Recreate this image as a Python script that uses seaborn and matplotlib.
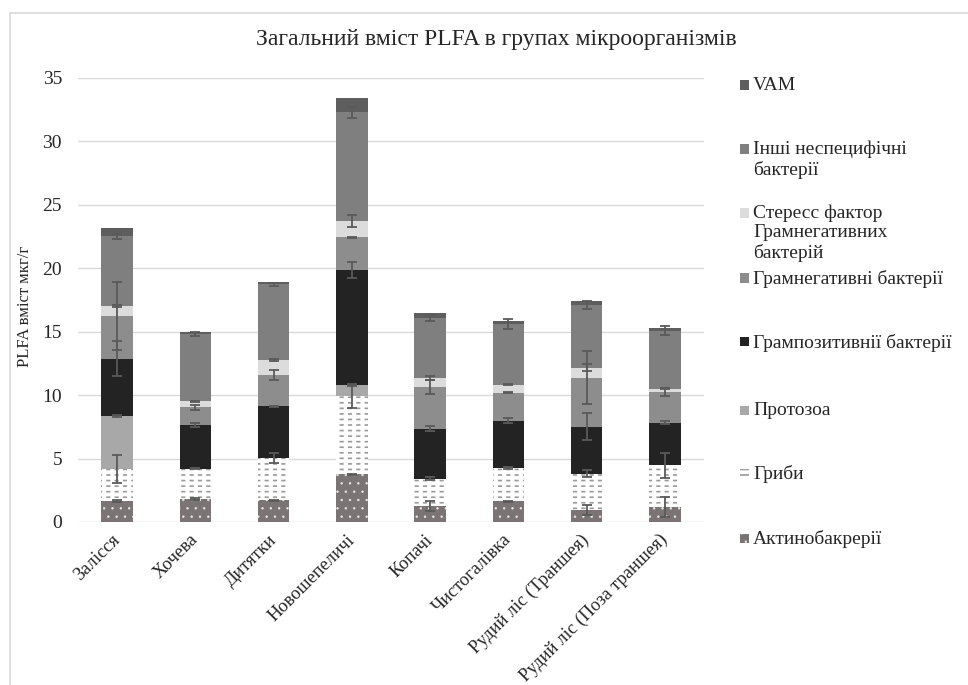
import numpy as np
import pandas as pd
import matplotlib
matplotlib.use("Agg")
import matplotlib.pyplot as plt
from matplotlib.patches import Rectangle
import seaborn as sns

# ---------------- data ----------------
sites = ["Залісся", "Хочева", "Дитятки", "Новошепеличі", "Копачі",
         "Чистогалівка", "Рудий ліс (Траншея)", "Рудий ліс (Поза траншея)"]

actino = [1.65, 1.84, 1.71, 3.76, 1.26, 1.63, 0.95, 1.21]
fungi = [2.55, 2.36, 3.31, 6.17, 2.16, 2.60, 2.86, 3.26]
protozoa = [4.15, 0.0, 0.0, 0.84, 0.0, 0.0, 0.0, 0.0]
gram_pos = [4.52, 3.47, 4.10, 9.09, 3.94, 3.76, 3.71, 3.36]
gram_neg = [3.36, 1.37, 2.47, 2.57, 3.28, 2.21, 3.86, 2.41]
stress = [0.79, 0.47, 1.18, 1.29, 0.74, 0.63, 0.79, 0.27]
other = [5.52, 5.34, 5.96, 8.59, 4.70, 4.75, 4.93, 4.57]
vam = [0.60, 0.15, 0.21, 1.08, 0.37, 0.26, 0.29, 0.21]

err_actino = [0.05, 0.08, 0.05, 0.05, 0.43, 0.05, 0.40, 0.79]
err_fungi = [1.10, 0.05, 0.40, 0.98, 0.12, 0.08, 0.30, 1.00]
err_protozoa = [0.05, 0.0, 0.0, 0.05, 0.0, 0.0, 0.0, 0.0]
err_gram_pos = [1.38, 0.15, 0.05, 0.60, 0.20, 0.20, 1.05, 0.10]
err_gram_neg = [2.68, 0.18, 0.40, 0.05, 0.58, 0.05, 2.10, 0.30]
err_stress = [0.10, 0.05, 0.05, 0.47, 0.15, 0.05, 0.26, 0.05]
err_other = [0.20, 0.15, 0.10, 0.43, 0.20, 0.40, 0.30, 0.35]
err_vam = [0.0, 0.0, 0.0, 0.0, 0.0, 0.0, 0.0, 0.0]

layer_names = ["Актинобакрерії", "Гриби", "Протозоа", "Грампозитивнії бактерії",
               "Грамнегативні бактерії", "Стересс фактор\nГрамнегативних\nбактерій",
               "Інші неспецифічні\nбактерії", "VAM"]

title = "Загальний вміст PLFA в групах мікроорганізмів"
ylabel = "PLFA вміст мкг/г"

# ---------------- styles ----------------
layers = [actino, fungi, protozoa, gram_pos, gram_neg, stress, other, vam]
errors = [err_actino, err_fungi, err_protozoa, err_gram_pos, err_gram_neg,
          err_stress, err_other, err_vam]
styles = [
    dict(facecolor="#7a7474", edgecolor="#e8e8e8", hatch="..", hlw=0.5),
    dict(facecolor="white", edgecolor="#9a9a9a", hatch="---", hlw=1.2),
    dict(facecolor="#a8a8a8", edgecolor="#a8a8a8", hatch=None, hlw=1.0),
    dict(facecolor="#232323", edgecolor="#232323", hatch=None, hlw=1.0),
    dict(facecolor="#8d8d8d", edgecolor="#8d8d8d", hatch=None, hlw=1.0),
    dict(facecolor="#dcdcdc", edgecolor="#dcdcdc", hatch=None, hlw=1.0),
    dict(facecolor="#7f7f7f", edgecolor="#7f7f7f", hatch=None, hlw=1.0),
    dict(facecolor="#5e5e5e", edgecolor="#5e5e5e", hatch=None, hlw=1.0),
]

sns.set_theme(style="white")
plt.rcParams["font.family"] = ["Liberation Serif", "DejaVu Serif"]
TXT = "#262626"


def set_hlw(patches, lw):
    for p in patches:
        if hasattr(p, "set_hatch_linewidth"):
            p.set_hatch_linewidth(lw)


fig = plt.figure(figsize=(9.68, 6.85), dpi=100)
W, H = 968, 685
ax = fig.add_axes([78 / W, 163 / H, (704 - 78) / W, (522 - 78) / H])

df = pd.DataFrame({"site": sites})
bottom = np.zeros(len(sites))
tops = []
for vals, st in zip(layers, styles):
    df["v"] = vals
    kw = dict(color=st["facecolor"], edgecolor=st["edgecolor"], linewidth=0)
    if st["hatch"]:
        kw["hatch"] = st["hatch"]
    n0 = len(ax.patches)
    sns.barplot(data=df, x="site", y="v", bottom=bottom, width=0.4, ax=ax,
                errorbar=None, zorder=2, saturation=1, **kw)
    set_hlw(ax.patches[n0:], st["hlw"])
    if st["hatch"] == "---":
        # break the horizontal lines into short dashes
        n0 = len(ax.patches)
        sns.barplot(data=df, x="site", y="v", bottom=bottom, width=0.4, ax=ax,
                    errorbar=None, zorder=2.1, color="white", fill=False,
                    saturation=1, edgecolor="white", linewidth=0, hatch="||")
        set_hlw(ax.patches[n0:], 3.0)
    bottom = bottom + np.array(vals)
    tops.append(bottom.copy())

xpos = np.arange(len(sites))
for top, err in zip(tops, errors):
    e = np.array(err)
    m = e > 0
    ax.errorbar(xpos[m], top[m], yerr=e[m], fmt="none", ecolor="#5a5a5a",
                elinewidth=1.3, capsize=3.5, capthick=1.3, zorder=5)

ax.set_ylim(0, 35)
ax.set_xlim(-0.5, len(sites) - 0.5)
ax.set_yticks(np.arange(0, 36, 5))
ax.grid(axis="y", color="#d9d9d9", linewidth=1.0, zorder=0)
ax.set_axisbelow(True)
for s in ax.spines.values():
    s.set_visible(False)
ax.set_xlabel("")
ax.set_ylabel("")
ax.tick_params(axis="both", length=0, labelsize=14, colors=TXT)
ax.tick_params(axis="y", pad=11.5)
plt.setp(ax.get_xticklabels(), rotation=45, ha="right", va="center",
         rotation_mode="anchor", fontsize=13.2)
ax.tick_params(axis="x", pad=11)

fig.text(496 / W, 1 - 40 / H, title, ha="center", va="center", fontsize=17,
         color=TXT)
fig.text(25 / W, 1 - 306 / H, ylabel, ha="center", va="center", rotation=90,
         fontsize=12, color=TXT)

# legend (manual, Excel-like: handle aligned with first line)
leg_y = [538, 473, 410, 342, 278, 213, 149, 85]
for name, st, yy in zip(layer_names, styles, leg_y):
    rect = Rectangle((740 / W, 1 - (yy + 4.5) / H), 9 / W, 9 / H,
                     transform=fig.transFigure, facecolor=st["facecolor"],
                     edgecolor=st["edgecolor"], linewidth=0,
                     hatch=st["hatch"])
    set_hlw([rect], st["hlw"])
    fig.patches.append(rect)
    fig.text(753 / W, 1 - (yy - 8) / H, name, ha="left", va="top",
             fontsize=14, color=TXT, linespacing=1.15)

# outer chart frame
fig.patches.append(Rectangle((10 / W, -0.01), 1.0, 1 - 13 / H + 0.01,
                             transform=fig.transFigure, facecolor="none",
                             edgecolor="#d9d9d9", linewidth=1.2))

fig.savefig("out.png", dpi=100)
